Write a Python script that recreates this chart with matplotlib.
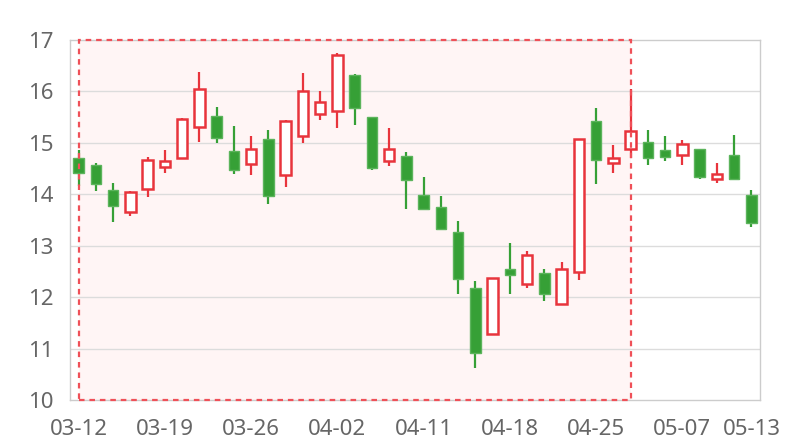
import matplotlib
matplotlib.use("Agg")
import matplotlib.pyplot as plt
from matplotlib.patches import Rectangle

dates = ['03-12','03-13','03-14','03-15','03-18','03-19','03-20','03-21','03-22',
         '03-25','03-26','03-27','03-28','03-29','04-01','04-02','04-03','04-04',
         '04-09','04-10','04-11','04-12','04-15','04-16','04-17','04-18','04-19',
         '04-22','04-23','04-24','04-25','04-26','04-29','04-30','05-06','05-07',
         '05-08','05-09','05-10','05-13']

opens  = [14.70,14.57,14.08,13.66,14.10,14.54,14.71,15.30,15.52,14.85,
          14.58,15.07,14.37,15.13,15.56,15.61,16.31,15.51,14.65,14.75,
          13.98,13.75,13.27,12.17,11.28,12.54,12.25,12.46,11.87,12.48,
          15.42,14.61,14.88,15.01,14.87,14.76,14.89,14.30,14.76,13.99]
closes = [14.41,14.20,13.78,14.04,14.67,14.65,15.46,16.05,15.09,14.48,
          14.89,13.97,15.43,16.01,15.79,16.71,15.68,14.52,14.89,14.27,
          13.71,13.32,12.36,10.92,12.38,12.43,12.82,12.07,12.55,15.08,
          14.67,14.71,15.24,14.71,14.73,14.98,14.34,14.39,14.30,13.45]
lows   = [14.16,14.06,13.47,13.58,13.95,14.42,14.71,15.02,14.99,14.39,
          14.37,13.81,14.15,14.99,15.44,15.28,15.35,14.47,14.55,13.71,
          13.71,13.32,12.06,10.62,11.28,12.06,12.17,11.93,11.87,12.33,
          14.20,14.41,14.71,14.57,14.65,14.56,14.30,14.21,14.30,13.37]
highs  = [14.86,14.60,14.21,14.06,14.72,14.87,15.48,16.37,15.69,15.33,
          15.13,15.25,15.44,16.35,16.00,16.74,16.34,15.51,15.28,14.83,
          14.33,13.97,13.48,12.32,12.38,13.05,12.90,12.55,12.68,15.08,
          15.67,14.96,16.04,15.25,15.13,15.06,14.89,14.60,15.16,14.08]

tick_idx = [0, 5, 10, 15, 20, 25, 30, 35, 39]
area_start, area_end = '03-12', '04-29'
y_min, y_max = 10, 17

UP = '#e8343c'
DOWN = '#36a036'
DOWN_EDGE = '#5cb45c'

plt.rcParams['font.family'] = ['Noto Sans', 'DejaVu Sans']

fig = plt.figure(figsize=(8, 4.4), dpi=100)
ax = fig.add_axes([70/800, 40/440, 690/800, 360/440])

n = len(dates)
ax.set_xlim(-0.5, n - 0.5)
ax.set_ylim(y_min, y_max)

# mark area
x0 = dates.index(area_start)
x1 = dates.index(area_end)
ax.add_patch(Rectangle((x0, y_min), x1 - x0, y_max - y_min,
                       facecolor='#fff5f5', edgecolor='none', zorder=0.5))
ax.add_patch(Rectangle((x0, y_min), x1 - x0, y_max - y_min,
                       facecolor='none', edgecolor='#ef5058', lw=1.6,
                       linestyle=(0, (2.5, 2.2)), zorder=4, clip_on=False))

for y in range(y_min + 1, y_max):
    ax.axhline(y, color='#dcdcdc', lw=1, zorder=1)

w = 0.62
for i in range(n):
    o, c, lo, hi = opens[i], closes[i], lows[i], highs[i]
    up = c >= o
    col = UP if up else DOWN
    bot, top = min(o, c), max(o, c)
    ax.plot([i, i], [lo, bot], color=col, lw=1.6, zorder=2, solid_capstyle='butt')
    ax.plot([i, i], [top, hi], color=col, lw=1.6, zorder=2, solid_capstyle='butt')
    if up:
        ax.add_patch(Rectangle((i - w/2, bot), w, max(top - bot, 0.02),
                               facecolor='white', edgecolor=UP, lw=1.8, zorder=3))
    else:
        ax.add_patch(Rectangle((i - w/2, bot), w, max(top - bot, 0.02),
                               facecolor=DOWN, edgecolor=DOWN_EDGE, lw=1.0, zorder=3))

for s in ax.spines.values():
    s.set_color('#cccccc')
    s.set_linewidth(1)

ax.set_yticks(range(y_min, y_max + 1))
ax.set_xticks(tick_idx)
ax.set_xticklabels([dates[i] for i in tick_idx])
ax.tick_params(axis='both', length=0, labelsize=16, labelcolor='#666666')
ax.tick_params(axis='y', pad=12)
ax.tick_params(axis='x', pad=14)

fig.savefig('out.png', dpi=100, facecolor='white')
